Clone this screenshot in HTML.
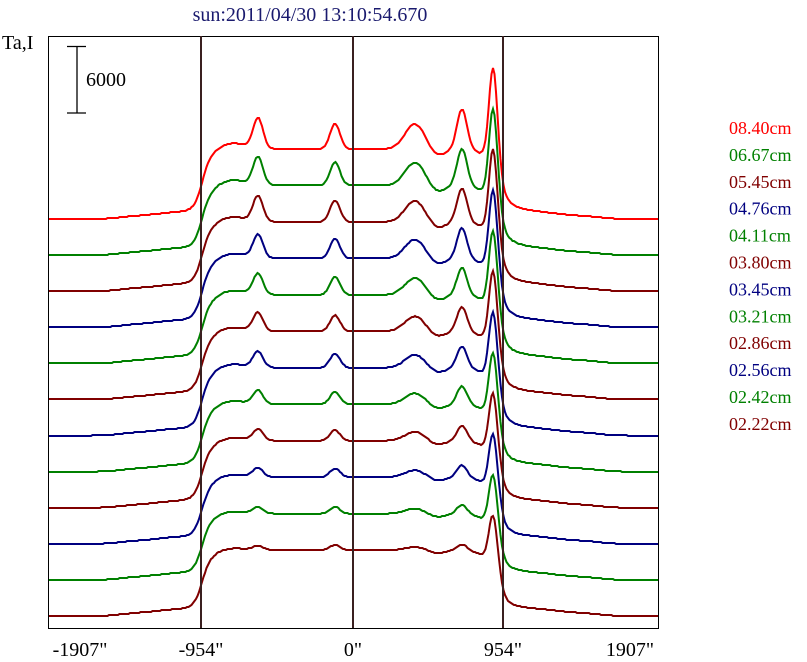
<!DOCTYPE html>
<html><head><style>
html,body{margin:0;padding:0;background:#fff;width:807px;height:662px;overflow:hidden}
svg{display:block}
svg text{font-family:'Liberation Serif','DejaVu Serif',serif}
</style></head><body>
<svg id="s" width="807" height="662" xmlns="http://www.w3.org/2000/svg">
<rect x="0" y="0" width="807" height="662" fill="#fff"/>
<text x="310" y="21" font-size="20" fill="#1a1a6e" text-anchor="middle">sun:2011/04/30 13:10:54.670</text>
<text x="2" y="49" font-size="20" fill="#000">Ta,I</text>
<rect x="48.5" y="36.5" width="610" height="592" fill="none" stroke="#000" stroke-width="1"/>
<line x1="77" y1="46" x2="77" y2="113" stroke="#000" stroke-width="1.3"/>
<line x1="67" y1="46.5" x2="86" y2="46.5" stroke="#000" stroke-width="1.3"/>
<line x1="67" y1="113" x2="86" y2="113" stroke="#000" stroke-width="1.3"/>
<text x="86" y="86" font-size="20" fill="#000">6000</text>
<g id="curves"></g>
<line x1="201" y1="36" x2="201" y2="628" stroke="#3a2020" stroke-width="2"/>
<line x1="353" y1="36" x2="353" y2="628" stroke="#3a2020" stroke-width="2"/>
<line x1="503" y1="36" x2="503" y2="628" stroke="#3a2020" stroke-width="2"/>
<g font-size="20" fill="#000" text-anchor="middle">
<text x="80" y="656">-1907"</text>
<text x="201" y="656">-954"</text>
<text x="353" y="656">0"</text>
<text x="503" y="656">954"</text>
<text x="630" y="656">1907"</text>
</g>
<g id="leg" font-size="18"></g>
</svg>
<script>
var cols=["#ff0000","#008000","#800000","#000080","#008000","#800000","#000080","#008000","#800000","#000080","#008000","#800000"];
var labels=["08.40cm","06.67cm","05.45cm","04.76cm","04.11cm","03.80cm","03.45cm","03.21cm","02.86cm","02.56cm","02.42cm","02.22cm"];
function sig(z){return 1/(1+Math.exp(-z));}
function g(x,c,s){return Math.exp(-(x-c)*(x-c)/(2*s*s));}
var out="",leg="";
for(var k=0;k<12;k++){
 var t=1-k/11, base=219+k*36.1, col=cols[k];
 var pts=[];
 for(var x=49;x<=658;x+=1.5){
  var off=5*sig((x-160)/12)*sig((555-x)/12)+3*sig((x-120)/8)*sig((600-x)/8);
  var disk=(50+4*t)*sig((x-202)/4)*sig((499-x)/3)+8*sig((x-215)/6)*sig((480-x)/6);
  var p=(4+26*t)*g(x,258,5)+(5+20*t)*g(x,335,5)+(3+22*t)*g(x,415,10)+(6+34*t)*g(x,462,5)
   +(45+45*t)*g(x,493,4)+(10+8*t)*sig((x-495)/2)*Math.exp(-Math.max(0,x-500)/12)
   -(3+4*t)*g(x,437,8)+(2+4*t)*g(x,232,15);
  var y=Math.round(base-(off+disk+p));
  pts.push(x.toFixed(1)+","+y);
 }
 out+='<polyline fill="none" stroke="'+col+'" stroke-width="2" points="'+pts.join(" ")+'"/>';
 leg+='<text x="729" y="'+(134+k*26.9).toFixed(1)+'" fill="'+col+'">'+labels[k]+'</text>';
}
document.getElementById("curves").innerHTML=out;
document.getElementById("leg").innerHTML=leg;
</script>
</body></html>
